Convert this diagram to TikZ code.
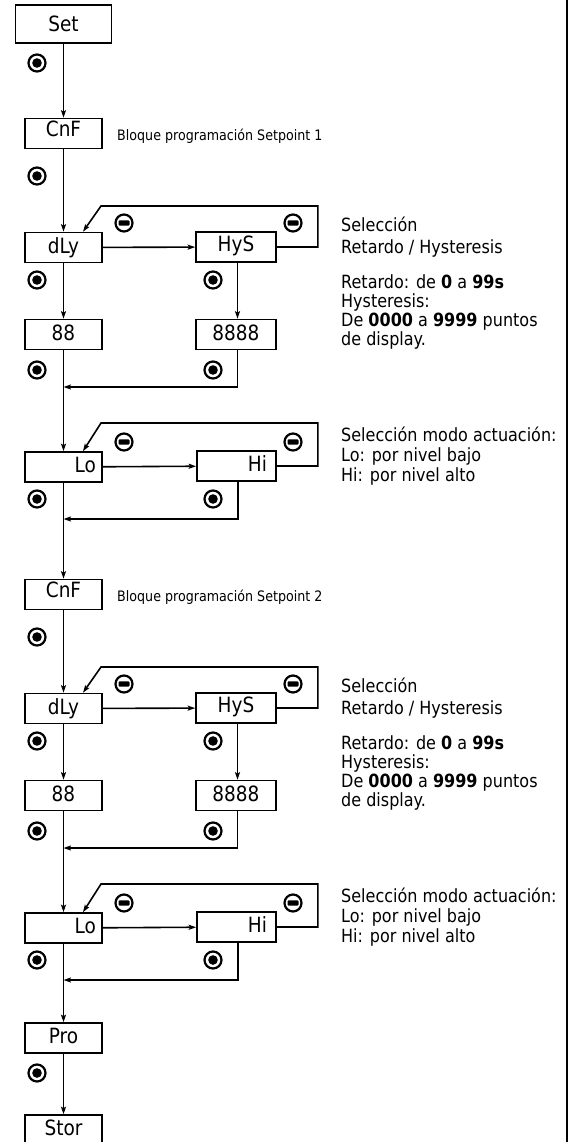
\documentclass[tikz,border=0pt]{standalone}
\usepackage{fontspec}
\setmainfont{DejaVu Sans}[FakeStretch=0.88]
\usetikzlibrary{arrows.meta,calc}
\tikzset{
 box/.style={draw,line width=1.6pt,minimum width=77pt,minimum height=30pt,inner sep=0pt,font=\fontsize{21}{24}\selectfont,text height=11pt,text depth=0pt},
 wbox/.style={box,minimum width=80pt},
 conn/.style={line width=1.6pt},
 arr/.style={conn,-{Stealth[length=7.5pt,width=5pt,inset=1.5pt]}},
 radio/.style={circle,draw,line width=2.2pt,minimum size=17pt,inner sep=0pt,path picture={\fill (path picture bounding box.center) circle (4.8pt);}},
 minus/.style={circle,draw,line width=2.2pt,minimum size=17pt,inner sep=0pt,path picture={\fill[rounded corners=1pt] ($(path picture bounding box.center)+(-5.5pt,-2.7pt)$) rectangle ($(path picture bounding box.center)+(5.5pt,2.7pt)$);}},
 note/.style={anchor=base west,inner sep=0pt,font=\fontsize{18.2}{19.8}\selectfont},
 smallnote/.style={anchor=base west,inner sep=0pt,font=\fontsize{14.4}{17}\selectfont},
}
\newcommand\spblock[3]{%
\begin{scope}[yshift=-#2pt]
 \node[box,text height=6pt] (cnf#1) at (63.5,133.5) {CnF};
 \node[smallnote] (lab#1) at (117,140.7) {Bloque programación Setpoint #3};
 \node[radio] (rc#1) at (37,176) {};
 \node[box] (dly#1) at (63.5,247.5) {dLy};
 \node[wbox,text height=9pt] (hys#1) at (236,247) {HyS};
 \node[box] (n#1) at (63.5,334.5) {88};
 \node[wbox] (e#1) at (236,334.5) {8888};
 \node[box,text width=65pt,align=right] (lo#1) at (63.5,467) {Lo};
 \node[wbox,minimum width=79pt,text width=61pt,align=right] (hi#1) at (236.5,466) {Hi};
 \node[radio] (rd#1) at (37,280) {};
 \node[radio] (rh#1) at (213,280) {};
 \node[radio] (rn#1) at (37,370) {};
 \node[radio] (re#1) at (213,370) {};
 \node[radio] (rl#1) at (37,499) {};
 \node[radio] (ri#1) at (213,499) {};
 \node[minus] (ma#1) at (124,223) {};
 \node[minus] (mb#1) at (293,223) {};
 \node[minus] (mc#1) at (124,442) {};
 \node[minus] (md#1) at (293,442) {};
 \node[note] (ta#1) at (341,231.7) {Selección};
 \node[note] (tb#1) at (341,253.3) {Retardo / Hysteresis};
 \node[note] (tc#1) at (341,288.3) {Retardo: de \textbf{0} a \textbf{99s}};
 \node[note] (td#1) at (341,307) {Hysteresis:};
 \node[note] (te#1) at (341,326.5) {De \textbf{0000} a \textbf{9999} puntos};
 \node[note] (tf#1) at (341,345) {de display.};
 \node[note] (tg#1) at (341,441.7) {Selección modo actuación:};
 \node[note] (th#1) at (341,461.5) {Lo: por nivel bajo};
 \node[note] (ti#1) at (341,481.5) {Hi: por nivel alto};
 \coordinate (j#1) at (63.5,387);
 \coordinate (k#1) at (63.5,519);
 \draw[arr] (cnf#1) -- (dly#1);
 \draw[arr] (dly#1) -- (n#1);
 \draw[arr] (dly#1) -- (hys#1);
 \draw[arr] ($(hys#1.south)+(1.5,0)$) -- ($(e#1.north)+(1.5,0)$);
 \draw[arr] (hys#1.east) -- ++(41,0) |- (101,206) -- ($(dly#1.north)+(19.5,0)$);
 \draw[arr] ($(e#1.south)+(1.5,0)$) |- (j#1);
 \draw[arr] (n#1) -- (lo#1);
 \draw[arr] (lo#1) -- (hi#1);
 \draw[arr] (hi#1.east) -- ++(41,0) |- (101,423) -- ($(lo#1.north)+(19.5,0)$);
 \draw[arr] ($(hi#1.south)+(1.5,0)$) |- (k#1);
\end{scope}}
\begin{document}
\begin{tikzpicture}[x=1pt,y=-1pt]
\useasboundingbox (0,0) rectangle (571,1142);
\node[box,minimum width=96pt,minimum height=38pt,text height=15pt] (set) at (63.5,24) {Set};
\node[radio] (rs) at (37,63) {};
\spblock{1}{0}{1}
\spblock{2}{461}{2}
\draw[arr] (set) -- (cnf1);
\draw[arr] (lo1) -- (cnf2);
\node[box] (pro) at (63.5,1038) {Pro};
\node[radio] (rp) at (37,1073) {};
\node[box] (stor) at (63.5,1130) {Stor};
\draw[arr] (lo2) -- (pro);
\draw[arr] (pro) -- (stor);
\coordinate (rt) at (567,0);
\coordinate (rb) at (567,1142);
\draw[line width=1.5pt] (rt) -- (rb);
\end{tikzpicture}
\end{document}
